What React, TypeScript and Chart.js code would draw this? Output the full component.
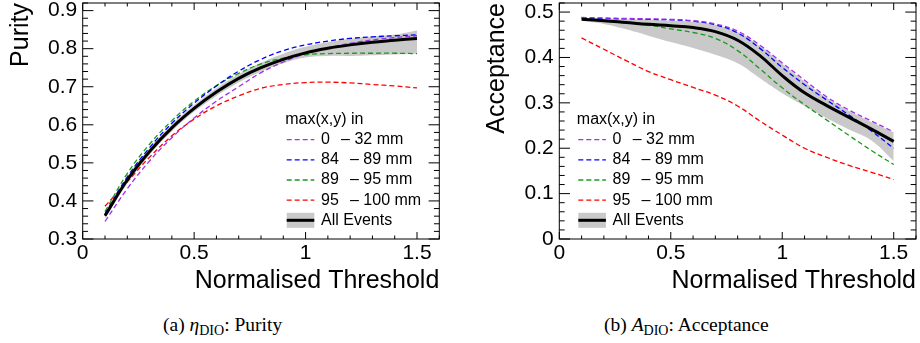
import React, { useEffect, useRef } from "react";
import { Chart, registerables } from "chart.js";

Chart.register(...registerables);

// ---------- data ----------
const thresholds = [0.1, 0.2, 0.3, 0.4, 0.5, 0.6, 0.7, 0.8, 0.9, 1.0, 1.1, 1.2, 1.3, 1.4, 1.5];

const purityAll = [0.361, 0.455, 0.53, 0.592, 0.643, 0.686, 0.722, 0.75, 0.772, 0.789, 0.801, 0.81, 0.817, 0.822, 0.827];
const purityBandLow = [0.353, 0.446, 0.521, 0.583, 0.634, 0.676, 0.711, 0.74, 0.762, 0.777, 0.781, 0.781, 0.783, 0.785, 0.787];
const purityBandHigh = [0.369, 0.464, 0.539, 0.601, 0.652, 0.696, 0.733, 0.763, 0.787, 0.805, 0.817, 0.826, 0.832, 0.837, 0.848];
const purity0to32 = [0.346, 0.432, 0.505, 0.566, 0.618, 0.662, 0.7, 0.737, 0.765, 0.787, 0.802, 0.814, 0.823, 0.829, 0.834];
const purity84to89 = [0.366, 0.463, 0.54, 0.604, 0.657, 0.702, 0.741, 0.772, 0.795, 0.81, 0.82, 0.827, 0.831, 0.834, 0.836];
const purity89to95 = [0.372, 0.472, 0.549, 0.611, 0.662, 0.703, 0.735, 0.76, 0.775, 0.784, 0.787, 0.788, 0.788, 0.788, 0.787];
const purity95to100 = [0.386, 0.45, 0.515, 0.571, 0.615, 0.65, 0.676, 0.696, 0.706, 0.711, 0.712, 0.71, 0.706, 0.702, 0.697];

const acceptanceAll = [0.484, 0.481, 0.477, 0.473, 0.47, 0.466, 0.457, 0.438, 0.404, 0.36, 0.322, 0.294, 0.268, 0.242, 0.215];
const acceptanceBandLow = [0.481, 0.474, 0.462, 0.448, 0.434, 0.421, 0.406, 0.387, 0.354, 0.321, 0.293, 0.266, 0.241, 0.217, 0.172];
const acceptanceBandHigh = [0.487, 0.486, 0.484, 0.483, 0.481, 0.479, 0.472, 0.456, 0.425, 0.386, 0.347, 0.311, 0.282, 0.258, 0.235];
const acceptance0to32 = [0.488, 0.487, 0.486, 0.485, 0.484, 0.481, 0.474, 0.458, 0.427, 0.388, 0.35, 0.313, 0.284, 0.26, 0.236];
const acceptance84to89 = [0.487, 0.486, 0.485, 0.484, 0.483, 0.48, 0.472, 0.454, 0.42, 0.378, 0.34, 0.306, 0.273, 0.238, 0.2];
const acceptance89to95 = [0.487, 0.482, 0.477, 0.471, 0.463, 0.455, 0.442, 0.415, 0.375, 0.333, 0.296, 0.262, 0.228, 0.195, 0.164];
const acceptance95to100 = [0.443, 0.418, 0.393, 0.369, 0.351, 0.334, 0.317, 0.293, 0.26, 0.229, 0.2, 0.18, 0.162, 0.147, 0.131];

const xTickValues = [0, 0.5, 1, 1.5];
const xTickLabels = ["0", "0.5", "1", "1.5"];
const purityTickValues = [0.3, 0.4, 0.5, 0.6, 0.7, 0.8, 0.9];
const purityTickLabels = ["0.3", "0.4", "0.5", "0.6", "0.7", "0.8", "0.9"];
const acceptanceTickValues = [0, 0.1, 0.2, 0.3, 0.4, 0.5];
const acceptanceTickLabels = ["0", "0.1", "0.2", "0.3", "0.4", "0.5"];

const xTitle = "Normalised Threshold";
const legendHeader = "max(x,y) in";
const rangeLows = ["0", "84", "89", "95"];
const rangeHighs = ["32 mm", "89 mm", "95 mm", "100 mm"];
const allEventsLabel = "All Events";

// ---------- style ----------
const SANS = "'Liberation Sans', Arial, Helvetica, sans-serif";
const SERIF = "'Liberation Serif', 'Times New Roman', Times, serif";
const rangeColors = ["#a030e8", "#0000ff", "#1a9a1a", "#ff0000"];
const bandColor = "#c9c9c9";
const DASH = [5, 3];

type PanelProps = {
  yTitle: string;
  yMin: number;
  yMax: number;
  yTickValues: number[];
  yTickLabels: string[];
  all: number[];
  bandLow: number[];
  bandHigh: number[];
  ranges: number[][];
  chartLeft: number;
  chartRight: number;
  legendOffset: number;
  yTitlePad: number;
};

const toPoints = (ys: number[]) => thresholds.map((x, i) => ({ x, y: ys[i] }));

function makeFramePlugin(legendOffset: number) {
  return {
    id: "rootFrame",
    afterDatasetsDraw(chart: any) {
      const { ctx, chartArea: a, scales } = chart;
      const xs = scales.x;
      const ys = scales.y;
      ctx.save();
      ctx.strokeStyle = "#000";
      ctx.lineWidth = 1;
      ctx.setLineDash([]);
      ctx.strokeRect(a.left, a.top, a.right - a.left, a.bottom - a.top);
      const xMajor = 7, xMinor = 3.5, yMajor = 10.7, yMinor = 5.35;
      ctx.beginPath();
      for (let i = 0; i * 0.1 <= xs.max + 1e-9; i++) {
        const px = xs.getPixelForValue(i * 0.1);
        const len = i % 5 === 0 ? xMajor : xMinor;
        ctx.moveTo(px, a.bottom);
        ctx.lineTo(px, a.bottom - len);
        ctx.moveTo(px, a.top);
        ctx.lineTo(px, a.top + len);
      }
      const k0 = Math.round(ys.min / 0.02);
      for (let k = k0; k * 0.02 <= ys.max + 1e-9; k++) {
        const py = ys.getPixelForValue(k * 0.02);
        const len = k % 5 === 0 ? yMajor : yMinor;
        ctx.moveTo(a.left, py);
        ctx.lineTo(a.left + len, py);
        ctx.moveTo(a.right, py);
        ctx.lineTo(a.right - len, py);
      }
      ctx.stroke();

      // legend
      const x0 = a.left + legendOffset;
      const sampleW = 27.6;
      const headerY = a.top + 116.7;
      const rowY = (i: number) => a.top + 136.7 + i * 20.15;
      ctx.font = `16px ${SANS}`;
      ctx.fillStyle = "#000";
      ctx.textBaseline = "middle";
      ctx.textAlign = "left";
      ctx.fillText(legendHeader, x0 - 1.5, headerY);
      rangeLows.forEach((low, i) => {
        const y = rowY(i);
        ctx.strokeStyle = rangeColors[i];
        ctx.lineWidth = 1.3;
        ctx.setLineDash(DASH);
        ctx.beginPath();
        ctx.moveTo(x0, y);
        ctx.lineTo(x0 + sampleW, y);
        ctx.stroke();
        ctx.setLineDash([]);
        ctx.fillStyle = "#000";
        const nx = x0 + 34.3;
        ctx.fillText(low, nx, y);
        const dx = nx + ctx.measureText(low).width + 11.2;
        ctx.fillText("\u2013 " + rangeHighs[i], dx, y);
      });
      const yAll = rowY(4);
      ctx.fillStyle = bandColor;
      ctx.fillRect(x0, yAll - 7.5, sampleW, 15);
      ctx.strokeStyle = "#000";
      ctx.lineWidth = 3;
      ctx.beginPath();
      ctx.moveTo(x0, yAll);
      ctx.lineTo(x0 + sampleW, yAll);
      ctx.stroke();
      ctx.fillStyle = "#000";
      ctx.fillText(allEventsLabel, x0 + 34.3, yAll);
      ctx.restore();
    },
  };
}

function Panel(p: PanelProps) {
  const ref = useRef<HTMLCanvasElement | null>(null);
  useEffect(() => {
    if (!ref.current) return;
    const datasets: any[] = [
      {
        data: toPoints(p.bandLow),
        borderWidth: 0,
        borderColor: "rgba(0,0,0,0)",
        fill: false,
        order: 10,
        tension: 0.4,
      },
      {
        data: toPoints(p.bandHigh),
        borderWidth: 0,
        borderColor: "rgba(0,0,0,0)",
        backgroundColor: bandColor,
        fill: "-1",
        order: 9,
        tension: 0.4,
      },
      ...p.ranges.map((r, i) => ({
        data: toPoints(r),
        borderColor: rangeColors[i],
        borderWidth: 1.3,
        borderDash: DASH,
        fill: false,
        order: 5,
        tension: 0.4,
      })),
      {
        data: toPoints(p.all),
        borderColor: "#000",
        borderWidth: 3,
        fill: false,
        order: 1,
        tension: 0.4,
      },
    ];
    const chart = new Chart(ref.current, {
      type: "line",
      data: { datasets },
      plugins: [makeFramePlugin(p.legendOffset)],
      options: {
        responsive: false,
        animation: false,
        devicePixelRatio: 1,
        layout: { padding: { top: 3, right: 460 - p.chartRight, left: 0, bottom: 0 } },
        elements: { point: { radius: 0 } },
        plugins: {
          legend: { display: false },
          tooltip: { enabled: false },
          title: { display: false },
        },
        scales: {
          x: {
            type: "linear",
            min: 0,
            max: 1.6,
            position: "bottom",
            afterBuildTicks: (s: any) => {
              s.ticks = xTickValues.map((v) => ({ value: v }));
            },
            afterFit: (s: any) => {
              s.height = 61;
            },
            grid: { display: false, drawTicks: false },
            border: { display: false },
            ticks: {
              padding: 3.5,
              maxRotation: 0,
              autoSkip: false,
              color: "#000",
              font: { family: SANS, size: 21, lineHeight: 1 },
              callback: (_v: any, i: number) => xTickLabels[i],
            },
            title: {
              display: true,
              text: xTitle,
              align: "end",
              color: "#000",
              font: { family: SANS, size: 25, lineHeight: 1 },
              padding: { top: 0, bottom: 6.2 },
            },
          },
          y: {
            type: "linear",
            min: p.yMin,
            max: p.yMax,
            position: "left",
            afterBuildTicks: (s: any) => {
              s.ticks = p.yTickValues.map((v) => ({ value: v }));
            },
            afterFit: (s: any) => {
              s.width = p.chartLeft;
            },
            grid: { display: false, drawTicks: true, tickLength: 5.5 },
            border: { display: false },
            ticks: {
              padding: 0,
              color: "#000",
              font: { family: SANS, size: 21, lineHeight: 0.2 },
              callback: (_v: any, i: number) => p.yTickLabels[i],
            },
            title: {
              display: true,
              text: p.yTitle,
              align: "end",
              color: "#000",
              font: { family: SANS, size: 25, lineHeight: 1 },
              padding: { top: p.yTitlePad, bottom: 0 },
            },
          },
        },
      } as any,
    });
    return () => chart.destroy();
  }, []);
  return <canvas ref={ref} width={460} height={300} style={{ width: 460, height: 300, display: "block" }} />;
}

const captionStyle: React.CSSProperties = {
  position: "absolute",
  top: 314,
  fontFamily: SERIF,
  fontSize: 19.5,
  lineHeight: "21px",
  whiteSpace: "nowrap",
  color: "#000",
};
const subStyle: React.CSSProperties = { fontSize: "0.72em", position: "relative", top: "0.3em" };

export default function App() {
  return (
    <div style={{ position: "absolute", left: 0, top: 0, width: 920, height: 343, background: "#fff", overflow: "hidden" }}>
      <div style={{ position: "absolute", left: 0, top: 0 }}>
        <Panel
          yTitle="Purity"
          yMin={0.3}
          yMax={0.92}
          yTickValues={purityTickValues}
          yTickLabels={purityTickLabels}
          all={purityAll}
          bandLow={purityBandLow}
          bandHigh={purityBandHigh}
          ranges={[purity0to32, purity84to89, purity89to95, purity95to100]}
          chartLeft={82.7}
          chartRight={439.3}
          legendOffset={204}
          yTitlePad={8.4}
        />
      </div>
      <div style={{ position: "absolute", left: 460, top: 0 }}>
        <Panel
          yTitle="Acceptance"
          yMin={0}
          yMax={0.52}
          yTickValues={acceptanceTickValues}
          yTickLabels={acceptanceTickLabels}
          all={acceptanceAll}
          bandLow={acceptanceBandLow}
          bandHigh={acceptanceBandHigh}
          ranges={[acceptance0to32, acceptance84to89, acceptance89to95, acceptance95to100]}
          chartLeft={99.3}
          chartRight={456}
          legendOffset={19}
          yTitlePad={25}
        />
      </div>
      <div style={{ ...captionStyle, left: 163 }}>
        (a) <i>η</i>
        <span style={subStyle}>DIO</span>: Purity
      </div>
      <div style={{ ...captionStyle, left: 604 }}>
        (b) <i>A</i>
        <span style={subStyle}>DIO</span>: Acceptance
      </div>
    </div>
  );
}
